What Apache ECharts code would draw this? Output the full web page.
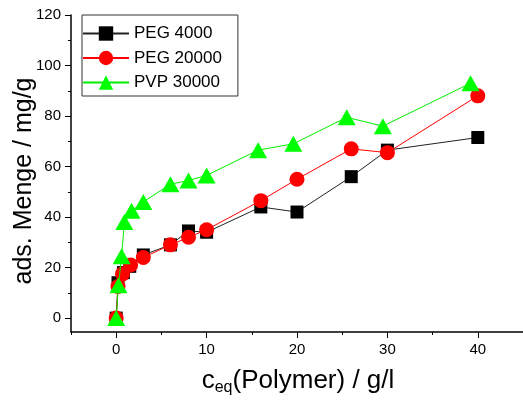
<!DOCTYPE html>
<html>
<head>
<meta charset="utf-8">
<script src="https://cdn.jsdelivr.net/npm/echarts@6/dist/echarts.min.js"></script>
<style>html,body{margin:0;padding:0;background:#fff}#c{width:523px;height:405px}</style>
</head>
<body>
<div id="c"></div>
<script>
var seriesNames = ['PEG 4000', 'PEG 20000', 'PVP 30000'];
var peg4000X = [0, 0.2, 0.8, 1.5, 3, 6, 8, 10, 16, 20, 26, 30, 40];
var peg4000Y = [0, 14, 18, 20.5, 25, 29, 34.5, 34, 44, 42, 56, 66.5, 71.5];
var peg20000X = [0, 0.2, 0.7, 1.6, 3, 6, 8, 10, 16, 20, 26, 30, 40];
var peg20000Y = [0, 12.5, 17.5, 21, 24, 29, 32, 35, 46.5, 55, 67, 65.5, 88];
var pvpX = [0, 0.25, 0.6, 0.9, 1.7, 3, 6, 8, 10, 15.7, 19.6, 25.5, 29.5, 39.2];
var pvpY = [0, 13, 24.5, 38, 42.5, 46, 53, 54.5, 56.5, 66.5, 69, 79.5, 76, 93];
var xMajorTicks = [0, 10, 20, 30, 40];
var xMinorTicks = [-5, 5, 15, 25, 35, 45];
var yMajorTicks = [0, 20, 40, 60, 80, 100, 120];
var yMinorTicks = [10, 30, 50, 70, 90, 110];
var xTitle = ['c', 'eq', '(Polymer) / g/l'];
var yTitle = 'ads. Menge / mg/g';

function pairs(xs, ys) { return xs.map(function (x, i) { return [x, ys[i]]; }); }
var FONT = 'Liberation Sans, Arial, sans-serif';

var chart = echarts.init(document.getElementById('c'), null, {renderer: 'canvas'});
var axisCommonX = {type: 'value', min: -5, max: 45, position: 'bottom', splitLine: {show: false}};
var axisCommonY = {type: 'value', min: -5.5, max: 120, position: 'left', splitLine: {show: false}};
chart.setOption({
  animation: false,
  backgroundColor: '#fff',
  grid: {left: 71, top: 15, width: 454, height: 317, containLabel: false},
  xAxis: [
    Object.assign({}, axisCommonX, {
      axisLine: {show: true, onZero: false, lineStyle: {color: '#000', width: 1.5}},
      axisTick: {show: true, inside: false, length: 6, customValues: xMajorTicks, lineStyle: {color: '#000', width: 1}},
      axisLabel: {show: true, customValues: xMajorTicks, margin: 10, fontSize: 15, color: '#000', fontFamily: FONT}
    }),
    Object.assign({}, axisCommonX, {
      axisLine: {show: false, onZero: false},
      axisTick: {show: true, inside: false, length: 3, customValues: xMinorTicks, lineStyle: {color: '#000', width: 1}},
      axisLabel: {show: false}
    })
  ],
  yAxis: [
    Object.assign({}, axisCommonY, {
      axisLine: {show: true, onZero: false, lineStyle: {color: '#000', width: 1.5}},
      axisTick: {show: true, inside: false, length: 6, customValues: yMajorTicks, lineStyle: {color: '#000', width: 1}},
      axisLabel: {show: true, customValues: yMajorTicks, margin: 10, fontSize: 15, color: '#000', fontFamily: FONT}
    }),
    Object.assign({}, axisCommonY, {
      axisLine: {show: false, onZero: false},
      axisTick: {show: true, inside: false, length: 3, customValues: yMinorTicks, lineStyle: {color: '#000', width: 1}},
      axisLabel: {show: false}
    })
  ],
  legend: {
    orient: 'vertical', left: 82, top: 15,
    itemWidth: 46, itemHeight: 18, itemGap: 7.5,
    padding: [10, 16, 5, 0],
    borderColor: '#333', borderWidth: 1,
    textStyle: {fontSize: 17, color: '#000', fontFamily: FONT, padding: [0, 0, 0, 0]},
    data: seriesNames
  },
  series: [
    {name: seriesNames[0], type: 'line', data: pairs(peg4000X, peg4000Y), symbol: 'rect', symbolSize: 13,
     lineStyle: {color: '#222', width: 1}, itemStyle: {color: '#000'}, z: 2},
    {name: seriesNames[1], type: 'line', data: pairs(peg20000X, peg20000Y), symbol: 'circle', symbolSize: 15,
     lineStyle: {color: '#ff0000', width: 1}, itemStyle: {color: '#ff0000'}, z: 3},
    {name: seriesNames[2], type: 'line', data: pairs(pvpX, pvpY), symbol: 'triangle', symbolSize: [18, 16],
     lineStyle: {color: '#00ee00', width: 1}, itemStyle: {color: '#00ff00'}, z: 4}
  ],
  graphic: [
    {type: 'text', x: 24, y: 181, rotation: Math.PI / 2,
     style: {text: yTitle, font: '25px ' + FONT, fill: '#000', textAlign: 'center', textVerticalAlign: 'middle'}},
    {type: 'text', x: 298, y: 381,
     style: {text: '{m|' + xTitle[0] + '}{s|' + xTitle[1] + '}{m|' + xTitle[2] + '}',
       textAlign: 'center', textVerticalAlign: 'middle', fill: '#000',
       rich: {
         m: {fontSize: 26, fontFamily: FONT, fill: '#000', lineHeight: 30},
         s: {fontSize: 16, fontFamily: FONT, fill: '#000', lineHeight: 30, verticalAlign: 'bottom', padding: [12, 0, 0, 0]}
       }}}
  ]
});
</script>
</body>
</html>
